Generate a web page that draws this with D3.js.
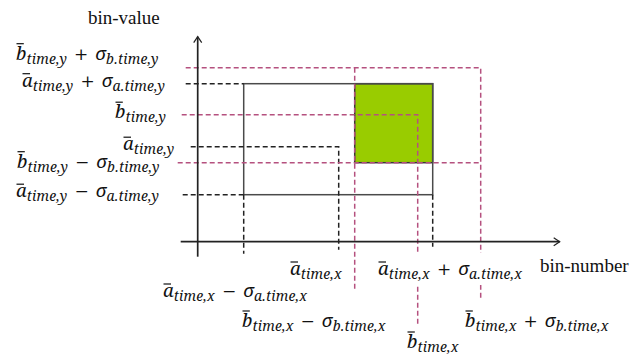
<!DOCTYPE html>
<html>
<head>
<meta charset="utf-8">
<script src="https://cdn.jsdelivr.net/npm/d3@7"></script>
<style>
  html, body { margin: 0; padding: 0; background: #fff; }
  svg { display: block; }
</style>
</head>
<body>
<div id="chart"></div>
<script>
// Bin positions for the two distributions a and b: [mean − σ, mean, mean + σ]
const seriesAx = [46, 141, 235];
const seriesBx = [157, 220, 283];
const seriesAy = [47, 95, 158];
const seriesBy = [79, 127, 174];

// Axis extents (bin-number / bin-value units)
const xDomain = [0, 362];
const yDomain = [0, 205];

// Label texts: [base letter, subscript, operator, sigma subscript]
const yLabelTexts = [
  ["b", "time,y", "+", "b.time,y"],
  ["a", "time,y", "+", "a.time,y"],
  ["b", "time,y"],
  ["a", "time,y"],
  ["b", "time,y", "\u2212", "b.time,y"],
  ["a", "time,y", "\u2212", "a.time,y"]
];
const xLabelTexts = [
  ["a", "time,x"],
  ["a", "time,x", "+", "a.time,x"],
  ["a", "time,x", "\u2212", "a.time,x"],
  ["b", "time,x", "\u2212", "b.time,x"],
  ["b", "time,x", "+", "b.time,x"],
  ["b", "time,x"]
];
const axisTitles = ["bin-number", "bin-value"];

const W = 643, H = 358;
const svg = d3.select("#chart").append("svg").attr("width", W).attr("height", H);

const x = d3.scaleLinear().domain(xDomain).range([197.7, 559.7]);
const y = d3.scaleLinear().domain(yDomain).range([241.7, 36.7]);

const pink = "#b5517f";
const dark = "#4a4a4a";

// overlap of the two σ-boxes
svg.append("rect")
  .attr("x", x(seriesBx[0])).attr("y", y(seriesAy[2]))
  .attr("width", x(seriesAx[2]) - x(seriesBx[0]))
  .attr("height", y(seriesBy[0]) - y(seriesAy[2]))
  .attr("fill", "#99cc00").attr("stroke", "#3a3a3a").attr("stroke-width", 1.5);

// σ-box of distribution a
svg.append("rect")
  .attr("x", x(seriesAx[0])).attr("y", y(seriesAy[2]))
  .attr("width", x(seriesAx[2]) - x(seriesAx[0]))
  .attr("height", y(seriesAy[0]) - y(seriesAy[2]))
  .attr("fill", "none").attr("stroke", dark).attr("stroke-width", 1.5);

const line = d3.line().x(d => x(d[0])).y(d => y(d[1]));

function dashed(points, color) {
  svg.append("path").attr("d", line(points))
    .attr("fill", "none").attr("stroke", color).attr("stroke-width", 1.5)
    .attr("stroke-dasharray", "5,3");
}

// guide lines for a (black)
dashed([[-12, seriesAy[2]], [seriesAx[0], seriesAy[2]]], "#222");
dashed([[-7, seriesAy[1]], [seriesAx[1], seriesAy[1]], [seriesAx[1], -8]], "#222");
dashed([[-15, seriesAy[0]], [seriesAx[0], seriesAy[0]]], "#222");
dashed([[seriesAx[0], seriesAy[0]], [seriesAx[0], -12]], "#222");
dashed([[seriesAx[2], seriesAy[0]], [seriesAx[2], -5]], "#222");

// guide lines for b (pink)
dashed([[-12, seriesBy[2]], [seriesBx[2], seriesBy[2]], [seriesBx[2], -56]], pink);
dashed([[seriesBx[0], seriesBy[2]], [seriesBx[0], -47]], pink);
dashed([[-16, seriesBy[1]], [seriesBx[1], seriesBy[1]], [seriesBx[1], -82]], pink);
dashed([[-20, seriesBy[0]], [seriesBx[2], seriesBy[0]]], pink);

// axes with open arrowheads
svg.append("path").attr("d", line([[-17, 0], [xDomain[1], 0]]))
  .attr("stroke", "#222").attr("stroke-width", 1.7).attr("fill", "none");
svg.append("path").attr("d", line([[0, -15], [0, yDomain[1]]]))
  .attr("stroke", "#222").attr("stroke-width", 1.7).attr("fill", "none");
const ax = x(xDomain[1]), ay = y(0);
svg.append("path").attr("d", `M${ax - 6},${ay - 4}L${ax},${ay}L${ax - 6},${ay + 4}`)
  .attr("stroke", "#222").attr("stroke-width", 1.2).attr("fill", "none");
const tx = x(0), ty = y(yDomain[1]);
svg.append("path").attr("d", `M${tx - 4},${ty + 6}L${tx},${ty}L${tx + 4},${ty + 6}`)
  .attr("stroke", "#222").attr("stroke-width", 1.2).attr("fill", "none");

// label layers: white knockouts below, text above
const bgLayer = svg.append("g");
const textLayer = svg.append("g");

// math-style label: italic letter with overbar and subscript, optional ± σ term
function ital(sel, size) {
  return sel.style("font-family", "'Noto Serif'").style("font-style", "italic").attr("font-size", size);
}
function sub(sel) {
  return ital(sel, 14).attr("letter-spacing", 0.2).attr("dy", 4);
}
function mathLabel(px, py, parts, knockout) {
  const g = textLayer.append("g");
  const t = g.append("text").attr("x", px).attr("y", py)
    .style("font-family", "'Liberation Serif'").attr("fill", "#111");
  ital(t.append("tspan"), 18.5).text(parts[0]);
  sub(t.append("tspan")).text(parts[1]);
  if (parts.length > 2) {
    t.append("tspan").style("font-family", "'DejaVu Serif'").attr("font-size", 17)
      .attr("dx", 7).attr("dy", -4).text(parts[2]);
    ital(t.append("tspan"), 18.5).attr("dx", 7).text("\u03c3");
    sub(t.append("tspan")).text(parts[3]);
  }
  const ext = t.node().getExtentOfChar(0);
  const barY = py - (parts[0] === "b" ? 16 : 13);
  g.append("line")
    .attr("x1", ext.x + 0.5).attr("x2", ext.x + ext.width * 0.75)
    .attr("y1", barY).attr("y2", barY)
    .attr("stroke", "#111").attr("stroke-width", 1.2);
  if (knockout) {
    const bb = t.node().getBBox();
    bgLayer.append("rect").attr("fill", "#fff")
      .attr("x", bb.x - 2).attr("y", bb.y - 2).attr("width", bb.width + 4).attr("height", bb.height + 4);
  }
  return g;
}

// y-side labels, placed beside their guide lines
const yLabelPos = [[16, seriesBy[2], -8], [22, seriesAy[2], 3], [115, seriesBy[1], 3.5],
                   [123, seriesAy[1], 3.5], [17, seriesBy[0], 5], [16, seriesAy[0], 2.5]];
yLabelTexts.forEach((p, i) => {
  const [lx, v, dy] = yLabelPos[i];
  mathLabel(lx, y(v) + dy, p, false);
});

// x-side labels (drawn over the guide lines they cross)
const xLabelPos = [[290, 275], [378, 275], [163, 297], [242, 327], [465, 327], [407, 348]];
xLabelTexts.forEach((p, i) => mathLabel(xLabelPos[i][0], xLabelPos[i][1], p, true));

// axis titles
textLayer.append("text").attr("x", 540).attr("y", 272)
  .style("font-family", "'Liberation Serif'").attr("font-size", 19).attr("fill", "#111")
  .text(axisTitles[0]);
textLayer.append("text").attr("x", 88).attr("y", 24)
  .style("font-family", "'Liberation Serif'").attr("font-size", 19).attr("fill", "#111")
  .text(axisTitles[1]);
</script>
</body>
</html>
